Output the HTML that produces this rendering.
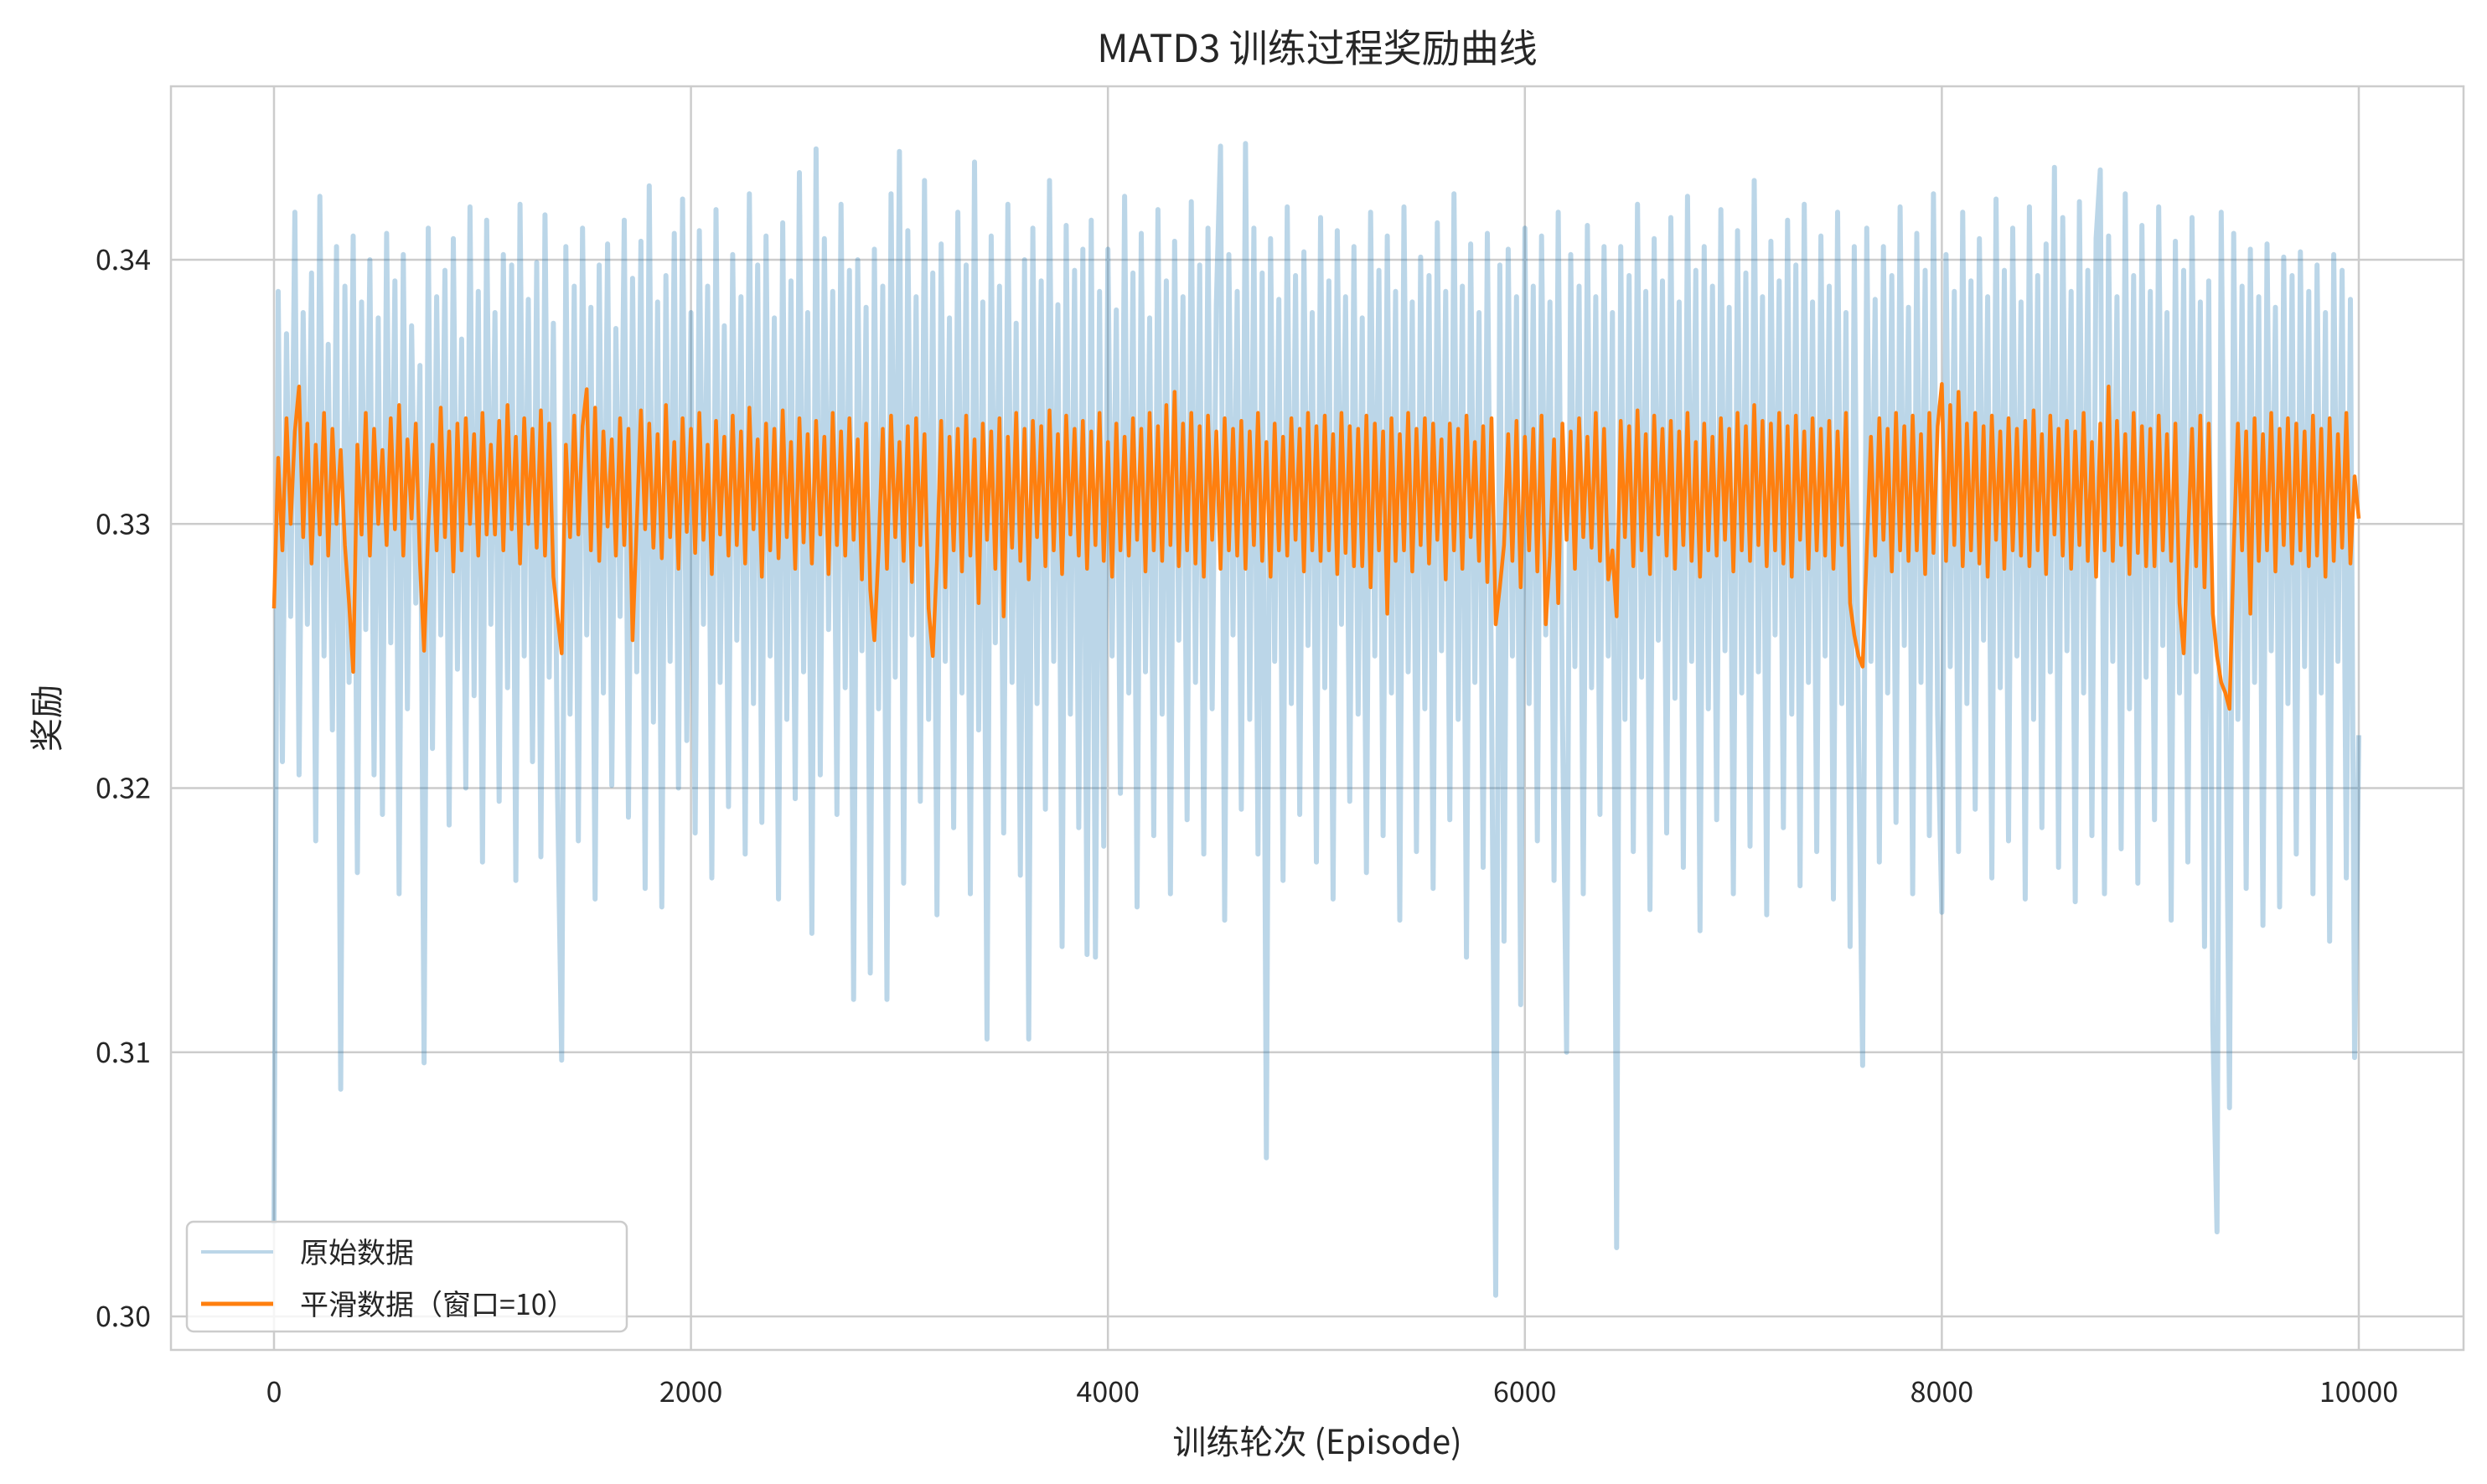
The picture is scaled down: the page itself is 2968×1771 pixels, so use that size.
<!DOCTYPE html>
<html><head><meta charset="utf-8">
<style>
html,body{margin:0;padding:0;background:#fff;}
svg{display:block;}
text{font-family:"WenQuanYi Zen Hei","Noto Sans CJK SC",sans-serif;fill:#262626;}
</style></head>
<body>
<svg id="chart" width="2968" height="1771" viewBox="0 0 2968 1771" xmlns="http://www.w3.org/2000/svg">
<rect x="0" y="0" width="2968" height="1771" fill="#fff"/>
<g id="grid"></g>
<g id="series"></g>
<rect x="204" y="103" width="2736" height="1508" fill="none" stroke="#cccccc" stroke-width="2.5"/>
<g id="ticks"></g>
<text x="1572" y="74" font-size="46" text-anchor="middle">MATD3 训练过程奖励曲线</text>
<text x="1572" y="1735" font-size="40" text-anchor="middle">训练轮次 (Episode)</text>
<text x="0" y="0" font-size="40" text-anchor="middle" transform="translate(70,857) rotate(-90)">奖励</text>
<g>
<rect x="223" y="1458" width="525" height="131" rx="8" fill="#ffffff" fill-opacity="0.8" stroke="#cccccc" stroke-width="2.5"/>
<line x1="240" y1="1494" x2="326" y2="1494" stroke="#bcd6e8" stroke-width="4"/>
<text x="358" y="1507" font-size="34">原始数据</text>
<line x1="240" y1="1556" x2="326" y2="1556" stroke="#ff7f0e" stroke-width="5"/>
<text x="358" y="1569" font-size="34">平滑数据（窗口=10）</text>
</g>
</svg>
<script>
const maxEpisode = 10000;
const rawValues = [
.3035,.3388,.3210,.3372,.3265,.3418,.3205,.3380,.3262,.3395,
.3180,.3424,.3250,.3368,.3222,.3405,.3086,.3390,.3240,.3409,
.3168,.3384,.3260,.3400,.3205,.3378,.3190,.3410,.3255,.3392,
.3160,.3402,.3230,.3375,.3270,.3360,.3096,.3412,.3215,.3386,
.3258,.3396,.3186,.3408,.3245,.3370,.3200,.3420,.3235,.3388,
.3172,.3415,.3262,.3380,.3195,.3402,.3238,.3398,.3165,.3421,
.3250,.3385,.3210,.3399,.3174,.3417,.3242,.3376,.3198,.3097,
.3405,.3228,.3390,.3180,.3412,.3258,.3382,.3158,.3398,.3236,
.3406,.3201,.3374,.3265,.3415,.3189,.3393,.3244,.3407,.3162,
.3428,.3225,.3384,.3155,.3394,.3248,.3410,.3200,.3423,.3218,
.3380,.3183,.3411,.3262,.3390,.3166,.3419,.3240,.3375,.3193,
.3402,.3256,.3386,.3175,.3425,.3232,.3398,.3187,.3409,.3250,
.3378,.3158,.3414,.3226,.3392,.3196,.3433,.3244,.3380,.3145,
.3442,.3205,.3408,.3260,.3388,.3190,.3421,.3238,.3396,.3120,
.3400,.3252,.3382,.3130,.3404,.3230,.3390,.3120,.3425,.3242,
.3441,.3164,.3411,.3258,.3386,.3195,.3430,.3226,.3395,.3152,
.3406,.3248,.3378,.3185,.3418,.3236,.3398,.3160,.3437,.3222,
.3384,.3105,.3409,.3255,.3390,.3183,.3421,.3240,.3376,.3167,
.3400,.3105,.3412,.3232,.3392,.3192,.3430,.3248,.3383,.3140,
.3413,.3228,.3396,.3185,.3404,.3137,.3415,.3136,.3388,.3178,
.3404,.3250,.3381,.3198,.3424,.3236,.3395,.3155,.3410,.3244,
.3378,.3182,.3419,.3228,.3392,.3160,.3407,.3256,.3386,.3188,
.3422,.3240,.3398,.3175,.3412,.3230,.3383,.3443,.3150,.3402,
.3258,.3388,.3192,.3444,.3226,.3412,.3175,.3395,.3060,.3408,
.3248,.3385,.3165,.3420,.3232,.3394,.3190,.3403,.3254,.3380,
.3172,.3416,.3238,.3392,.3158,.3411,.3262,.3386,.3195,.3405,
.3228,.3378,.3168,.3418,.3250,.3396,.3182,.3409,.3236,.3388,
.3150,.3420,.3244,.3384,.3176,.3401,.3230,.3394,.3162,.3414,
.3252,.3388,.3188,.3425,.3226,.3390,.3136,.3406,.3240,.3380,
.3170,.3410,.3236,.3008,.3398,.3142,.3404,.3250,.3386,.3118,
.3412,.3232,.3390,.3180,.3409,.3258,.3384,.3165,.3418,.3228,
.3100,.3402,.3246,.3390,.3160,.3413,.3238,.3386,.3190,.3405,
.3250,.3380,.3026,.3405,.3226,.3394,.3176,.3421,.3242,.3388,
.3154,.3408,.3256,.3392,.3183,.3416,.3234,.3384,.3170,.3424,
.3248,.3396,.3146,.3405,.3230,.3390,.3188,.3419,.3252,.3382,
.3160,.3411,.3236,.3395,.3178,.3430,.3244,.3386,.3152,.3407,
.3258,.3392,.3185,.3415,.3228,.3398,.3163,.3421,.3240,.3384,
.3176,.3409,.3250,.3390,.3158,.3418,.3232,.3380,.3140,.3405,
.3220,.3095,.3412,.3248,.3385,.3172,.3405,.3236,.3394,.3187,
.3420,.3254,.3382,.3160,.3410,.3240,.3396,.3182,.3425,.3228,
.3153,.3402,.3246,.3388,.3176,.3418,.3232,.3392,.3192,.3408,
.3256,.3386,.3166,.3423,.3238,.3396,.3180,.3412,.3250,.3384,
.3158,.3420,.3226,.3394,.3185,.3406,.3244,.3435,.3170,.3416,
.3252,.3388,.3157,.3422,.3236,.3396,.3182,.3408,.3434,.3160,
.3409,.3248,.3386,.3177,.3425,.3230,.3394,.3164,.3413,.3242,
.3388,.3188,.3420,.3254,.3380,.3150,.3407,.3236,.3396,.3172,
.3416,.3244,.3384,.3140,.3392,.3110,.3032,.3418,.3250,.3079,
.3410,.3226,.3390,.3162,.3404,.3240,.3386,.3148,.3406,.3252,
.3382,.3155,.3401,.3232,.3394,.3175,.3403,.3246,.3388,.3160,
.3398,.3236,.3380,.3142,.3402,.3248,.3396,.3166,.3385,.3098,
.3220];
const smoothValues = [
.3268,.3325,.3290,.3340,.3300,.3335,.3352,.3295,.3338,.3285,
.3330,.3296,.3342,.3288,.3336,.3300,.3328,.3292,.3270,.3244,
.3330,.3296,.3342,.3288,.3336,.3300,.3328,.3292,.3340,.3298,
.3345,.3288,.3332,.3302,.3338,.3285,.3252,.3298,.3330,.3290,
.3344,.3295,.3335,.3282,.3338,.3290,.3340,.3300,.3334,.3288,
.3342,.3296,.3330,.3296,.3339,.3290,.3345,.3298,.3333,.3285,
.3340,.3300,.3336,.3291,.3343,.3288,.3338,.3280,.3265,.3251,
.3330,.3295,.3341,.3296,.3337,.3351,.3290,.3344,.3286,.3335,
.3299,.3332,.3288,.3340,.3292,.3336,.3256,.3300,.3343,.3298,
.3338,.3291,.3334,.3287,.3345,.3295,.3331,.3283,.3340,.3297,
.3336,.3289,.3342,.3294,.3330,.3281,.3339,.3296,.3333,.3288,
.3341,.3292,.3335,.3285,.3344,.3298,.3332,.3280,.3338,.3290,
.3336,.3287,.3343,.3295,.3331,.3283,.3340,.3293,.3334,.3285,
.3339,.3296,.3333,.3281,.3342,.3292,.3335,.3288,.3340,.3294,
.3332,.3279,.3338,.3275,.3256,.3290,.3336,.3283,.3341,.3295,
.3331,.3286,.3337,.3278,.3340,.3292,.3334,.3268,.3250,.3286,
.3339,.3276,.3333,.3290,.3336,.3282,.3341,.3288,.3332,.3270,
.3338,.3294,.3335,.3283,.3340,.3265,.3333,.3291,.3342,.3286,
.3336,.3279,.3339,.3295,.3337,.3284,.3343,.3290,.3334,.3281,
.3341,.3296,.3336,.3288,.3339,.3283,.3335,.3292,.3342,.3286,
.3331,.3280,.3338,.3290,.3333,.3288,.3340,.3294,.3336,.3282,
.3342,.3290,.3337,.3286,.3345,.3292,.3350,.3284,.3338,.3290,
.3342,.3285,.3337,.3280,.3341,.3294,.3335,.3283,.3340,.3290,
.3336,.3288,.3339,.3283,.3335,.3292,.3342,.3286,.3331,.3280,
.3338,.3290,.3333,.3288,.3340,.3294,.3336,.3282,.3342,.3290,
.3337,.3286,.3341,.3290,.3334,.3281,.3342,.3289,.3337,.3284,
.3336,.3284,.3341,.3276,.3338,.3290,.3335,.3266,.3340,.3286,
.3334,.3290,.3342,.3282,.3336,.3292,.3340,.3285,.3338,.3294,
.3332,.3279,.3338,.3290,.3336,.3283,.3341,.3295,.3331,.3286,
.3337,.3278,.3340,.3262,.3276,.3292,.3334,.3286,.3339,.3276,
.3333,.3290,.3336,.3282,.3341,.3262,.3288,.3332,.3270,.3338,
.3294,.3335,.3283,.3340,.3295,.3333,.3291,.3342,.3286,.3336,
.3279,.3290,.3265,.3339,.3295,.3337,.3284,.3343,.3290,.3334,
.3281,.3341,.3296,.3336,.3288,.3339,.3283,.3335,.3292,.3342,
.3286,.3331,.3280,.3338,.3290,.3333,.3288,.3340,.3294,.3336,
.3282,.3342,.3290,.3337,.3286,.3345,.3292,.3339,.3284,.3338,
.3290,.3342,.3285,.3337,.3280,.3341,.3294,.3335,.3283,.3340,
.3290,.3336,.3288,.3339,.3283,.3335,.3292,.3342,.3270,.3258,
.3250,.3246,.3290,.3333,.3288,.3340,.3294,.3336,.3282,.3342,
.3290,.3337,.3286,.3341,.3290,.3334,.3281,.3342,.3289,.3337,
.3353,.3286,.3345,.3292,.3350,.3284,.3338,.3290,.3342,.3285,
.3337,.3280,.3341,.3294,.3335,.3283,.3340,.3290,.3336,.3288,
.3339,.3284,.3343,.3290,.3334,.3281,.3341,.3296,.3336,.3288,
.3339,.3283,.3335,.3292,.3342,.3286,.3331,.3280,.3338,.3290,
.3352,.3286,.3339,.3292,.3334,.3281,.3342,.3289,.3337,.3284,
.3336,.3284,.3341,.3290,.3334,.3286,.3338,.3270,.3251,.3292,
.3336,.3284,.3341,.3276,.3338,.3266,.3250,.3240,.3236,.3230,
.3290,.3338,.3290,.3335,.3266,.3340,.3286,.3334,.3290,.3342,
.3282,.3336,.3292,.3340,.3285,.3338,.3290,.3335,.3284,.3341,
.3288,.3336,.3280,.3340,.3286,.3334,.3291,.3342,.3285,.3318,
.3302];
const xTicks = [0,2000,4000,6000,8000,10000];
const yTicks = [0.30,0.31,0.32,0.33,0.34];
const yTickLabels = ["0.30","0.31","0.32","0.33","0.34"];

const NS = "http://www.w3.org/2000/svg";
function xScale(v){ return 327 + (v/10000)*(2815-327); }
function yScale(v){ return 1571 - (v-0.30)/0.04*(1571-310); }
function mk(tag, attrs){ const e=document.createElementNS(NS,tag); for(const k in attrs) e.setAttribute(k,attrs[k]); return e; }

const grid=document.getElementById('grid'), ticks=document.getElementById('ticks'), series=document.getElementById('series');
xTicks.forEach(function(t){
  const l=mk('line',{x1:xScale(t),x2:xScale(t),y1:103,y2:1611,stroke:'#cccccc','stroke-width':2.5});
  
  
  grid.appendChild(l);
  const tx=mk('text',{x:xScale(t),y:1673,'font-size':34,'text-anchor':'middle'});
  tx.textContent=String(t);
  
  
  ticks.appendChild(tx);
});
yTicks.forEach(function(t,i){
  const l=mk('line',{x1:204,x2:2940,y1:yScale(t),y2:yScale(t),stroke:'#cccccc','stroke-width':2.5});
  
  
  grid.appendChild(l);
  const tx=mk('text',{x:180,y:yScale(t)+12,'font-size':34,'text-anchor':'end'});
  tx.textContent=yTickLabels[i];
  
  
  ticks.appendChild(tx);
});
function pts(arr){ const st=maxEpisode/(arr.length-1); return arr.map(function(v,i){ return xScale(i*st).toFixed(1)+','+yScale(v).toFixed(1); }).join(' '); }
const raw=mk('polyline',{points:pts(rawValues),fill:'none',stroke:'#1f77b4','stroke-opacity':0.3,'stroke-width':6,'stroke-linejoin':'round'});


series.appendChild(raw);
const sm=mk('polyline',{points:pts(smoothValues),fill:'none',stroke:'#ff7f0e','stroke-width':4.5,'stroke-linejoin':'round'});


series.appendChild(sm);
</script>
</body></html>
